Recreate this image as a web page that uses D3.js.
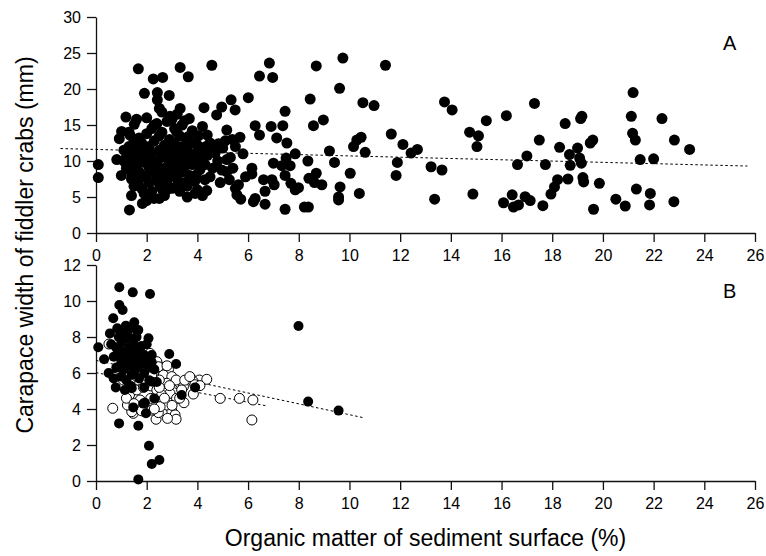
<!DOCTYPE html>
<html><head><meta charset="utf-8">
<script src="https://cdn.jsdelivr.net/npm/d3@7"></script>
<style>
body{margin:0;background:#fff;}
svg{display:block;font-family:"Liberation Sans",Arial,sans-serif;}
</style></head>
<body><svg id="c" width="766" height="556"></svg>
<script>
// ---------- DATA ----------
const xTicks = [0,2,4,6,8,10,12,14,16,18,20,22,24,26];
const yTicksA = [0,5,10,15,20,25,30];
const yTicksB = [0,2,4,6,8,10,12];
const xTitle = "Organic matter of sediment surface (%)";
const yTitle = "Carapace width of fiddler crabs (mm)";
const panelLabels = ["A","B"];

// Panel A: filled circles (organic matter %, carapace width mm)
const pointsA = [
[0.09,9.5],[0.09,7.7],[0.82,10.2],[0.92,13.1],[1.01,14.1],[1.18,16.1],[1.32,3.2],[1.34,13.6],[1.51,15.1],[1.67,22.8],
[1.83,4.1],[1.91,19.4],[2.26,21.4],[2.63,21.6],[2.42,19.5],[2.42,18.5],[2.5,17.3],[2.29,4.8],[2.89,19.1],[3.32,23.0],
[3.64,21.7],[3.32,17.3],[3.68,15.9],[3.18,14.1],[2.92,16.2],[4.57,23.3],[4.26,17.4],[4.39,13.6],[4.76,16.4],[4.96,17.5],
[5.33,18.5],[5.49,17.1],[5.16,14.3],[5.38,13.0],[5.68,13.3],[5.5,12.0],[6.01,18.8],[6.45,21.8],[6.84,23.6],[6.97,21.6],
[6.28,14.9],[6.45,13.6],[6.91,14.8],[7.37,14.9],[7.46,16.9],[7.13,13.2],[7.53,12.5],[7.86,11.0],[7.5,10.4],[7.66,9.35],
[7.0,9.7],[7.33,9.35],[7.46,8.0],[7.69,6.9],[7.99,6.3],[7.86,6.0],[7.46,3.3],[8.22,3.6],[8.38,3.6],[8.45,18.6],
[8.58,14.9],[8.36,10.0],[8.4,7.6],[6.21,4.35],[6.28,4.8],[6.67,4.0],[6.67,5.8],[6.61,7.4],[6.94,7.4],[7.03,6.7],
[6.15,9.0],[6.15,8.2],[5.71,4.7],[5.56,5.3],[5.62,6.7],[5.26,7.4],[5.16,8.5],[4.96,8.75],[5.16,10.2],[4.7,11.1],
[4.83,12.4],[4.34,12.0],[4.37,5.9],[3.91,5.5],[4.3,7.4],[3.95,8.05],[3.95,10.0],[4.04,13.5],[3.64,13.4],[3.21,6.6],
[2.79,6.0],[2.59,6.2],[1.8,6.2],[1.67,7.1],[1.41,8.3],[1.28,9.2],[1.34,10.2],
[8.69,8.3],[8.62,7.0],[8.91,6.7],[8.97,15.7],[8.69,23.2],[9.21,11.4],[9.41,9.8],[9.61,20.1],[9.74,24.3],[9.63,6.4],
[9.57,5.0],[9.57,4.6],[10.03,8.3],[10.16,12.0],[10.29,12.9],[10.46,13.3],[10.62,11.2],[10.39,5.5],[10.53,18.1],[10.97,17.7],
[11.42,23.3],[11.65,13.75],[12.11,12.3],[11.89,9.8],[11.84,8.0],[12.43,11.1],[12.68,11.6],[13.22,9.2],[13.65,8.75],[13.36,4.7],
[13.75,18.2],[14.05,17.1],[14.74,14.0],[15.09,13.5],[15.03,12.0],[14.87,5.4],[15.4,15.6],[16.19,16.3],[16.63,9.5],[17.0,10.7],
[16.08,4.2],[16.42,5.3],[16.47,3.6],[16.67,3.9],[16.93,5.05],
[17.13,4.5],[17.3,18.0],[17.49,12.9],[17.73,9.5],[17.63,3.8],[17.95,5.4],[18.09,6.4],[18.21,7.4],[18.62,7.5],[18.29,11.9],
[18.51,15.2],[18.68,10.9],[18.71,9.4],[19.0,11.8],[19.08,10.4],[19.15,9.7],[19.17,16.2],[19.12,15.9],[19.21,7.7],[19.24,7.1],
[19.5,12.5],[19.6,12.9],[19.86,6.9],[19.63,3.3],[20.51,4.7],[20.88,3.75],[21.19,19.5],[21.12,16.2],[21.17,13.85],[21.28,12.9],
[21.47,10.2],[21.32,6.1],[21.87,5.5],[21.84,3.9],[22.0,10.3],[22.33,15.9],[22.82,12.9],[22.8,4.35],[23.42,11.6],
[1.1,11.5],[1.2,10.5],[1.2,9.0],[1.3,12.0],[1.4,11.0],[1.4,7.5],[1.5,10.0],[1.5,12.8],[1.5,6.5],[1.6,9.5],
[1.6,11.8],[1.7,8.5],[1.7,13.2],[1.7,10.8],[1.8,7.8],[1.8,12.5],[1.9,9.8],[1.9,11.2],[1.9,5.5],[2.0,8.0],
[2.0,13.8],[2.0,10.3],[2.1,12.0],[2.1,7.0],[2.1,9.0],[2.2,14.5],[2.2,11.0],[2.2,5.8],[2.3,8.5],[2.3,12.8],
[2.3,10.0],[2.4,15.2],[2.4,7.5],[2.4,9.5],[2.5,11.5],[2.5,13.5],[2.5,6.8],[2.6,10.5],[2.6,8.2],[2.6,14.0],
[2.7,12.2],[2.7,9.0],[2.7,5.2],[2.8,11.0],[2.8,15.5],[2.8,7.2],[2.9,13.0],[2.9,9.8],[2.9,8.0],[3.0,11.8],
[3.0,10.5],[3.0,6.2],[3.1,14.5],[3.1,12.5],[3.1,8.8],[3.2,9.5],[3.2,11.2],[3.2,7.5],[3.3,13.5],[3.3,10.0],
[3.3,5.8],[3.4,12.0],[3.4,8.5],[3.4,15.0],[3.5,10.8],[3.5,7.0],[3.5,9.2],[3.6,11.5],[3.6,13.0],[3.6,6.5],
[3.7,10.2],[3.7,8.0],[3.8,12.5],[3.8,9.5],[3.8,14.2],[3.9,11.0],[3.9,7.2],[4.0,12.2],[4.0,6.0],[4.1,10.5],
[4.1,8.8],[4.2,11.8],[4.2,14.8],[4.3,9.5],[4.4,10.8],[4.5,12.5],[4.5,7.8],[4.6,11.5],[4.6,9.0],[4.8,10.0],
[4.9,7.0],[5.0,11.8],[5.1,12.8],[5.3,10.5],[5.4,9.0],[5.5,6.2],[5.8,11.0],[5.9,7.8],[1.3,14.0],[1.6,15.8],
[2.0,16.0],[2.3,15.0],[2.6,16.8],[3.0,15.8],[3.2,16.5],[3.5,15.6],[1.4,5.2],[2.0,4.5],[2.5,4.8],[3.6,5.0],
[4.2,5.2],[1.0,8.0],[1.1,10.0]
];
// Panel A regression line (endpoints)
const fitA = [[-1.4,11.73],[25.7,9.3]];

// Panel B: open circles
const pointsBOpen = [
[0.51,7.61],[0.71,5.76],[0.66,4.04],[2.13,7.09],[2.4,6.63],[2.59,6.32],[2.86,6.2],[2.66,5.89],[2.99,5.8],[3.29,5.46],
[3.45,5.24],[3.78,5.65],[4.08,5.61],[4.37,5.65],[3.84,4.83],[3.47,4.35],[4.9,4.59],[5.66,4.59],[6.19,4.5],[6.15,3.39],
[2.92,4.87],[3.18,4.59],[2.99,3.91],[3.12,3.67],[3.16,3.43],[2.82,3.48],[2.37,3.43],[2.46,3.8],[2.2,3.94],[1.47,3.76],
[1.41,3.85],[1.24,4.22],[1.32,4.78],[1.61,5.06],[1.87,5.2],[2.17,5.28],[2.4,5.06],[2.59,4.78],[2.66,4.5],[2.79,4.22],
[2.53,4.13],[2.16,4.59],[1.74,4.5],[3.38,5.06],[2.79,5.43],[3.16,5.61],[2.5,5.61],[2.26,5.98],[2.46,6.35],[2.13,6.72],
[1.93,5.61],[1.64,5.61],[1.34,5.43],[1.08,5.61],[3.84,5.52],
[1.2,4.6],[1.5,4.3],[1.8,3.9],[2.0,5.5],[2.3,4.0],[2.5,5.2],[2.7,4.6],[2.9,5.3],[3.0,4.2],[3.3,4.6],
[3.5,5.6],[3.9,5.35],[4.1,5.3],[3.7,5.8],[2.2,5.9],[2.8,6.4]
];
// Panel B: filled circles
const pointsBFilled = [
[0.92,10.76],[1.45,10.48],[2.13,10.39],[0.92,9.78],[1.05,9.5],[0.68,9.04],[0.55,8.2],[0.84,8.48],[1.18,8.63],[1.51,8.82],
[1.63,8.35],[2.07,7.93],[0.09,7.43],[0.32,6.76],[2.89,7.06],[3.16,6.5],[0.78,5.2],[1.14,5.06],[1.37,5.28],[3.91,5.2],
[3.38,4.78],[2.3,4.59],[1.47,4.09],[1.93,4.35],[1.97,3.76],[0.91,3.2],[1.67,3.07],[2.09,1.96],[2.2,0.94],[2.5,1.17],
[1.67,0.09],[7.99,8.61],[8.37,4.41],[9.57,3.91],[1.67,8.39],[1.87,4.3],[1.41,5.15],[2.22,5.52],
[0.6,7.6],[0.7,6.9],[0.8,7.4],[0.8,6.3],[0.9,8.0],[0.9,7.0],[1.0,7.7],[1.0,6.6],[1.0,5.8],[1.1,8.3],
[1.1,7.2],[1.1,6.2],[1.2,7.9],[1.2,6.8],[1.2,5.6],[1.3,8.0],[1.3,7.4],[1.3,6.4],[1.4,7.0],[1.4,5.9],
[1.4,8.5],[1.5,7.6],[1.5,6.6],[1.5,6.0],[1.6,7.2],[1.6,6.3],[1.6,8.0],[1.7,6.9],[1.7,5.7],[1.8,7.5],
[1.8,6.5],[1.9,7.0],[1.9,6.0],[2.0,6.8],[2.0,7.6],[2.1,6.3],[2.1,5.6],[2.2,7.0],[2.3,6.2],[2.4,5.5],
[0.5,6.0],[0.7,5.7],[1.9,5.2],[2.2,6.6]
];
// Panel B regression lines
const fitBOpen = [[0,6.02],[6.74,4.17]];
const fitBFilled = [[0,6.7],[10.54,3.52]];

// ---------- DRAW ----------
const svg = d3.select("#c");
const font = '"Liberation Sans",Arial,sans-serif';
const x = d3.scaleLinear().domain([0,26]).range([96,755]);
const yA = d3.scaleLinear().domain([0,30]).range([233,17]);
const yB = d3.scaleLinear().domain([0,12]).range([481,265]);
const RA = 5.5, RB = 5;

function axes(y, yt){
  const gx = svg.append("g").attr("transform",`translate(0,${y.range()[0]})`)
    .call(d3.axisBottom(x).tickValues(xTicks).tickSize(9).tickSizeOuter(0).tickPadding(8).tickFormat(d3.format("d")));
  const gy = svg.append("g").attr("transform",`translate(${x.range()[0]},0)`)
    .call(d3.axisLeft(y).tickValues(yt).tickSize(9).tickSizeOuter(0).tickPadding(6).tickFormat(d3.format("d")));
  [gx,gy].forEach(g=>{
    g.selectAll("path,line").attr("stroke","#111").attr("stroke-width",1.3);
    g.selectAll("text").attr("font-size",16).attr("font-family",font).attr("fill","#000");
  });
}
axes(yA, yTicksA);
axes(yB, yTicksB);

const line = (y)=>d3.line().x(d=>x(d[0])).y(d=>y(d[1]));
function fit(data, y){
  svg.append("path").attr("d", line(y)(data)).attr("fill","none")
    .attr("stroke","#000").attr("stroke-width",1).attr("stroke-dasharray","2.5,2.5");
}

// Panel A
fit(fitA, yA);
svg.append("g").selectAll("circle").data(pointsA).join("circle")
  .attr("cx",d=>x(d[0])).attr("cy",d=>yA(d[1])).attr("r",RA).attr("fill","#000");

// Panel B
fit(fitBOpen, yB);
fit(fitBFilled, yB);
svg.append("g").selectAll("circle").data(pointsBOpen).join("circle")
  .attr("cx",d=>x(d[0])).attr("cy",d=>yB(d[1])).attr("r",RB)
  .attr("fill","#fff").attr("stroke","#000").attr("stroke-width",1);
svg.append("g").selectAll("circle").data(pointsBFilled).join("circle")
  .attr("cx",d=>x(d[0])).attr("cy",d=>yB(d[1])).attr("r",RB).attr("fill","#000");

// panel letters
[[panelLabels[0], yA],[panelLabels[1], yB]].forEach(([t,y])=>{
  svg.append("text").attr("x",x(25)).attr("y",y.range()[1]+33).attr("text-anchor","middle")
    .attr("font-size",20).attr("font-family",font).text(t);
});

// titles
svg.append("text").attr("x",(x.range()[0]+x.range()[1])/2).attr("y",546)
  .attr("text-anchor","middle").attr("font-size",23).attr("font-family",font).text(xTitle);
svg.append("text").attr("transform","translate(33,245) rotate(-90)")
  .attr("text-anchor","middle").attr("font-size",23).attr("font-family",font).text(yTitle);
</script>
</body></html>
